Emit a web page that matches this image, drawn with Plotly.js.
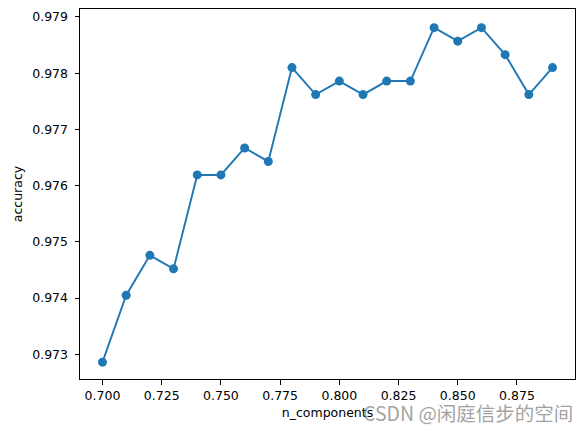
<!DOCTYPE html>
<html>
<head>
<meta charset="utf-8">
<script src="https://cdn.plot.ly/plotly-3.0.1.min.js"></script>
<style>html,body{margin:0;padding:0;background:#fff;}</style>
</head>
<body>
<div id="chart" style="width:585px;height:432px;"></div>
<script>
const nComponents = [0.70, 0.71, 0.72, 0.73, 0.74, 0.75, 0.76, 0.77, 0.78, 0.79, 0.80, 0.81, 0.82, 0.83, 0.84, 0.85, 0.86, 0.87, 0.88, 0.89];
const accuracy = [0.97286, 0.97405, 0.97476, 0.97452, 0.97619, 0.97619, 0.97667, 0.97643, 0.97810, 0.97762, 0.97786, 0.97762, 0.97786, 0.97786, 0.97881, 0.97857, 0.97881, 0.97833, 0.97762, 0.97810];
const xTicks = [0.700, 0.725, 0.750, 0.775, 0.800, 0.825, 0.850, 0.875];
const yTicks = [0.973, 0.974, 0.975, 0.976, 0.977, 0.978, 0.979];

const font = {family: 'DejaVu Sans, sans-serif', size: 12.5, color: '#000'};
const axisCommon = {
  showline: true, mirror: true, linecolor: '#000', linewidth: 1,
  ticks: 'outside', ticklen: 4.5, tickwidth: 1, tickcolor: '#000',
  showgrid: false, zeroline: false, tickfont: font, tickformat: '.3f'
};
const trace = {
  x: nComponents, y: accuracy, type: 'scatter', mode: 'lines+markers',
  line: {color: '#1f77b4', width: 1.9},
  marker: {color: '#1f77b4', size: 9}
};
const layout = {
  width: 585, height: 432,
  margin: {l: 80, r: 10, t: 9, b: 53},
  paper_bgcolor: '#fff', plot_bgcolor: '#fff',
  showlegend: false, font: font,
  xaxis: Object.assign({}, axisCommon, {
    range: [0.6905, 0.8995], tickvals: xTicks,
    title: {text: 'n_components', font: font, standoff: 6}
  }),
  yaxis: Object.assign({}, axisCommon, {
    range: [0.97256, 0.979142], tickvals: yTicks, ticklabelstandoff: 4,
    title: {text: 'accuracy', font: font, standoff: 6}
  }),
  annotations: [{
    xref: 'paper', yref: 'paper', x: 1.0, y: -0.09, xanchor: 'right', yanchor: 'middle',
    text: 'CSDN @闲庭信步的空间', showarrow: false,
    font: {family: 'Noto Sans CJK SC, sans-serif', size: 19.5, color: 'rgba(120,120,120,0.7)'}
  }]
};
Plotly.newPlot('chart', [trace], layout, {displayModeBar: false, staticPlot: true});
</script>
</body>
</html>
